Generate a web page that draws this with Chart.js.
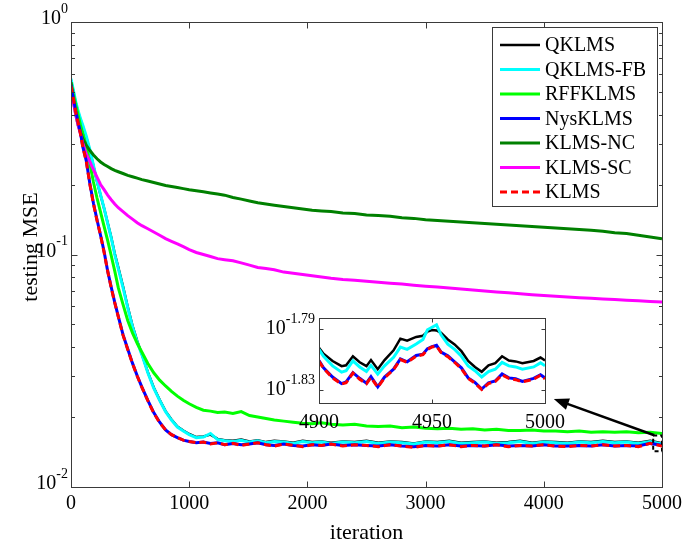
<!DOCTYPE html>
<html>
<head>
<meta charset="utf-8">
<script src="https://cdn.jsdelivr.net/npm/chart.js@4.4.1/dist/chart.umd.min.js"></script>
<style>
  html, body { margin: 0; padding: 0; background: #fff; }
  #wrap { position: relative; width: 684px; height: 545px; overflow: hidden; }
  #main { position: absolute; left: 0; top: 0; }
  #inset { position: absolute; left: 250px; top: 290px; }
</style>
</head>
<body>
<div id="wrap">
  <canvas id="main" width="684" height="545"></canvas>
  <canvas id="inset" width="320" height="145"></canvas>
</div>
<script>
// ---- data ----
const iterations = [0, 20, 40, 60, 80, 100, 130, 160, 190, 220, 250, 280, 310, 340, 370, 400, 440, 480, 520, 560,
  600, 650, 700, 750, 800, 850, 900, 950, 1000,
  1060, 1120, 1180, 1240, 1300, 1370, 1440, 1510, 1580, 1650, 1720, 1800, 1880, 1960, 2040, 2120, 2200,
  2300, 2400, 2500, 2600, 2700, 2800, 2900, 3000, 3100, 3200, 3300, 3400, 3500, 3600, 3700, 3800, 3900, 4000,
  4100, 4200, 4300, 4400, 4500, 4600, 4700, 4800, 4900, 5000];

const qklms = [0.56, 0.505, 0.45, 0.41, 0.38, 0.355, 0.318, 0.279, 0.240, 0.206, 0.180, 0.158, 0.137, 0.119, 0.101, 0.088, 0.073, 0.0595, 0.0495, 0.0425,
  0.0372, 0.0312, 0.0268, 0.0237, 0.0212, 0.0195, 0.0182, 0.0175, 0.0169,
  0.0164, 0.0165, 0.0168, 0.0161, 0.0159, 0.0158, 0.0160, 0.0157, 0.0159, 0.0156, 0.0158, 0.0157, 0.0155, 0.0158, 0.0156, 0.0157, 0.0155,
  0.0157, 0.0156, 0.0158, 0.0155, 0.0157, 0.0156, 0.0154, 0.0157, 0.0156, 0.0158, 0.0155, 0.0156, 0.0157, 0.0155, 0.0156, 0.0158, 0.0155, 0.0157,
  0.0156, 0.0155, 0.0157, 0.0156, 0.0158, 0.0156, 0.0157, 0.0155, 0.0158, 0.0154];

const qklmsFB = [0.57, 0.51, 0.455, 0.415, 0.385, 0.36, 0.322, 0.282, 0.242, 0.207, 0.181, 0.158, 0.136, 0.118, 0.100, 0.087, 0.072, 0.059, 0.049, 0.042,
  0.037, 0.031, 0.0266, 0.0236, 0.0211, 0.0194, 0.0181, 0.0174, 0.0168,
  0.0163, 0.0164, 0.0170, 0.0160, 0.0158, 0.0157, 0.0159, 0.0156, 0.0158, 0.0155, 0.0157, 0.0156, 0.0154, 0.0157, 0.0155, 0.0156, 0.0154,
  0.0156, 0.0155, 0.0157, 0.0154, 0.0156, 0.0155, 0.0153, 0.0156, 0.0155, 0.0157, 0.0154, 0.0155, 0.0156, 0.0154, 0.0155, 0.0157, 0.0154, 0.0156,
  0.0155, 0.0154, 0.0156, 0.0155, 0.0157, 0.0155, 0.0156, 0.0154, 0.0157, 0.0153];

const rffklms = [0.55, 0.49, 0.44, 0.40, 0.36, 0.33, 0.29, 0.245, 0.205, 0.175, 0.152, 0.132, 0.115, 0.099, 0.085, 0.072, 0.061, 0.052, 0.046, 0.0415,
  0.038, 0.034, 0.031, 0.0288, 0.0272, 0.0258, 0.0246, 0.0236, 0.0228,
  0.0220, 0.0214, 0.0212, 0.0209, 0.0210, 0.0207, 0.0211, 0.0203, 0.0200, 0.0197, 0.0194, 0.0192, 0.0190, 0.0188, 0.0187, 0.0189, 0.0186,
  0.0185, 0.0186, 0.0183, 0.0182, 0.0183, 0.0180, 0.0181, 0.0179, 0.0178, 0.0179, 0.0177, 0.0178, 0.0176, 0.0177, 0.0175, 0.0175, 0.0176, 0.0174,
  0.0174, 0.0173, 0.0174, 0.0172, 0.0173, 0.0172, 0.0173, 0.0171, 0.0172, 0.0170];

const nysklms = [0.535, 0.47, 0.415, 0.37, 0.335, 0.29, 0.252, 0.201, 0.166, 0.141, 0.121, 0.103, 0.085, 0.0725, 0.0622, 0.0542, 0.0452, 0.0392, 0.0341, 0.0301,
  0.0269, 0.0236, 0.0209, 0.0190, 0.0176, 0.0168, 0.0163, 0.0159, 0.0157,
  0.0155, 0.0156, 0.0154, 0.0155, 0.0152, 0.0154, 0.0152, 0.0153, 0.0155, 0.0152, 0.0151, 0.0153, 0.0151, 0.0150, 0.0152, 0.0151, 0.0153,
  0.0151, 0.0152, 0.0151, 0.0150, 0.0152, 0.0150, 0.0149, 0.0151, 0.0150, 0.0152, 0.0150, 0.0151, 0.0150, 0.0152, 0.0150, 0.0151, 0.0150, 0.0152,
  0.0150, 0.0150, 0.0151, 0.0150, 0.0152, 0.0150, 0.0151, 0.0150, 0.0154, 0.0151];

const klmsNC = [0.55, 0.46, 0.40, 0.36, 0.335, 0.315, 0.295, 0.280, 0.268, 0.258, 0.250, 0.244, 0.239, 0.234, 0.230, 0.227, 0.223, 0.219, 0.216, 0.213,
  0.210, 0.207, 0.204, 0.201, 0.198, 0.196, 0.194, 0.192, 0.190,
  0.188, 0.186, 0.184, 0.182, 0.180, 0.176, 0.173, 0.170, 0.167, 0.165, 0.163, 0.161, 0.159, 0.157, 0.155, 0.154, 0.153,
  0.151, 0.150, 0.148, 0.147, 0.146, 0.144, 0.143, 0.141, 0.140, 0.139, 0.138, 0.137, 0.136, 0.135, 0.134, 0.133, 0.132, 0.131,
  0.130, 0.129, 0.128, 0.127, 0.126, 0.124, 0.123, 0.121, 0.119, 0.117];

const klmsSC = [0.50, 0.45, 0.40, 0.36, 0.33, 0.30, 0.27, 0.25, 0.232, 0.215, 0.200, 0.190, 0.180, 0.172, 0.165, 0.159, 0.153, 0.147, 0.142, 0.137,
  0.133, 0.129, 0.125, 0.121, 0.117, 0.114, 0.111, 0.108, 0.105,
  0.102, 0.100, 0.098, 0.096, 0.095, 0.094, 0.092, 0.090, 0.088, 0.087, 0.086, 0.084, 0.083, 0.082, 0.081, 0.080, 0.079,
  0.078, 0.0775, 0.0767, 0.076, 0.0753, 0.0746, 0.0738, 0.0731, 0.0724, 0.0717, 0.071, 0.0703, 0.0697, 0.069, 0.0684, 0.0678, 0.0672, 0.0667,
  0.0662, 0.0657, 0.0652, 0.0648, 0.0644, 0.064, 0.0636, 0.0632, 0.0628, 0.0625];

const klms = [0.53, 0.47, 0.41, 0.37, 0.33, 0.29, 0.25, 0.20, 0.165, 0.14, 0.121, 0.102, 0.085, 0.072, 0.062, 0.054, 0.045, 0.039, 0.034, 0.030,
  0.0268, 0.0235, 0.0208, 0.0189, 0.0176, 0.0168, 0.0163, 0.0159, 0.0157,
  0.0155, 0.0156, 0.0153, 0.0155, 0.0152, 0.0154, 0.0151, 0.0153, 0.0155, 0.0152, 0.0150, 0.0153, 0.0151, 0.0149, 0.0152, 0.0151, 0.0153,
  0.0150, 0.0152, 0.0151, 0.0149, 0.0152, 0.0150, 0.0148, 0.0151, 0.0150, 0.0152, 0.0149, 0.0151, 0.0150, 0.0152, 0.0149, 0.0151, 0.0150, 0.0152,
  0.0150, 0.0149, 0.0151, 0.0150, 0.0152, 0.0150, 0.0151, 0.0149, 0.0154, 0.0150];

// zoomed window, last 100 iterations
const zoomIter = [4900, 4902, 4906, 4910, 4912, 4915, 4918, 4921, 4923, 4926, 4929, 4933, 4936, 4939, 4943, 4946, 4948, 4950,
  4952, 4954, 4957, 4960, 4963, 4966, 4969, 4972, 4975, 4978, 4981, 4984, 4987, 4990, 4995, 4998, 5000];
const zoomQKLMS = [0.015760, 0.015620, 0.015450, 0.015330, 0.015350, 0.015560, 0.015420, 0.015330, 0.015470, 0.015260, 0.015470, 0.015700,
  0.015980, 0.015930, 0.016020, 0.016050, 0.016150, 0.016190, 0.016180, 0.016120, 0.015960, 0.015840, 0.015680, 0.015450,
  0.015310, 0.015200, 0.015350, 0.015400, 0.015560, 0.015460, 0.015440, 0.015400, 0.015450, 0.015530, 0.015460];
const zoomQKLMSFB = [0.015722, 0.015560, 0.015336, 0.015192, 0.015223, 0.015453, 0.015311, 0.015206, 0.015346, 0.015146, 0.015336, 0.015535,
  0.015776, 0.015722, 0.015849, 0.015959, 0.016196, 0.016256, 0.016315, 0.016073, 0.015849, 0.015722, 0.015560, 0.015336,
  0.015223, 0.015080, 0.015206, 0.015258, 0.015417, 0.015336, 0.015311, 0.015258, 0.015311, 0.015406, 0.015336];
const zoomNys = [0.015460, 0.015290, 0.015080, 0.014930, 0.014970, 0.015180, 0.015050, 0.014940, 0.015090, 0.014860, 0.015080, 0.015260,
  0.015500, 0.015430, 0.015580, 0.015610, 0.015740, 0.015790, 0.015820, 0.015660, 0.015570, 0.015430, 0.015290, 0.015060,
  0.014960, 0.014810, 0.014950, 0.014990, 0.015150, 0.015060, 0.015040, 0.014980, 0.015050, 0.015130, 0.015060];
const zoomKLMS = [0.015440, 0.015280, 0.015060, 0.014920, 0.014950, 0.015170, 0.015030, 0.014930, 0.015070, 0.014850, 0.015060, 0.015250,
  0.015480, 0.015420, 0.015560, 0.015600, 0.015720, 0.015780, 0.015800, 0.015650, 0.015550, 0.015420, 0.015270, 0.015050,
  0.014940, 0.014800, 0.014930, 0.014980, 0.015130, 0.015050, 0.015020, 0.014970, 0.015030, 0.015120, 0.015040];

// ticks
const mainXTicks = [0, 1000, 2000, 3000, 4000, 5000];
const mainYDecades = [0, -1, -2];
const zoomXTicks = [4900, 4950, 5000];
const zoomYExps = [-1.79, -1.83];
const zoomXRange = [4900, 5000];
const zoomYExpRange = [-1.8377, -1.7829];

// ---- styling ----
const FONT = "'Liberation Serif', 'Times New Roman', serif";
const AXIS_COLOR = '#3a3a3a';

const styles = {
  QKLMS:      { color: '#000000', width: 2.5, order: 7 },
  'QKLMS-FB': { color: '#00ffff', width: 3,   order: 6 },
  RFFKLMS:    { color: '#00ff00', width: 3,   order: 5 },
  NysKLMS:    { color: '#0000ff', width: 3,   order: 2 },
  'KLMS-NC':  { color: '#008000', width: 3,   order: 4 },
  'KLMS-SC':  { color: '#ff00ff', width: 3,   order: 3 },
  KLMS:       { color: '#ff0000', width: 3,   order: 1, dash: [7, 4] }
};

function makeSet(label, xs, ys) {
  const st = styles[label];
  return {
    label: label,
    data: xs.map((x, i) => ({ x: x, y: ys[i] })),
    borderColor: st.color,
    borderWidth: st.width,
    borderDash: st.dash || [],
    order: st.order,
    pointRadius: 0,
    fill: false,
    tension: 0
  };
}

// draws "10" with a raised exponent, right aligned at xr
function drawPow(ctx, exp, xr, y, baseSize, expSize) {
  ctx.textBaseline = 'middle';
  ctx.font = expSize + 'px ' + FONT;
  const ew = ctx.measureText(exp).width;
  ctx.font = baseSize + 'px ' + FONT;
  const bw = ctx.measureText('10').width;
  ctx.textAlign = 'left';
  ctx.fillStyle = '#000';
  ctx.fillText('10', xr - ew - bw, y);
  ctx.font = expSize + 'px ' + FONT;
  ctx.fillText(exp, xr - ew, y - baseSize * 0.5);
}

function crisp(v) { return Math.round(v) + 0.5; }

// MATLAB-like box, inward ticks, superscript labels for the main axes
const mainFrame = {
  id: 'mainFrame',
  afterDatasetsDraw(chart) {
    const { ctx, scales: { x, y } } = chart;
    ctx.save();
    // dashed box marking the zoomed window
    const x0 = x.getPixelForValue(zoomXRange[0]), x1 = x.getPixelForValue(zoomXRange[1]);
    const y0 = y.getPixelForValue(Math.pow(10, zoomYExpRange[1])), y1 = y.getPixelForValue(Math.pow(10, zoomYExpRange[0]));
    ctx.strokeStyle = '#000';
    ctx.lineWidth = 2;
    ctx.setLineDash([4, 3]);
    ctx.strokeRect(x0 + 3, y0 - 1, x1 - x0 - 3, y1 - y0 + 3);
    ctx.setLineDash([]);
    // arrow towards the inset
    const tx = x.getPixelForValue(4935), ty = y.getPixelForValue(0.0167);
    const hx = x.getPixelForValue(4085), hy = y.getPixelForValue(0.0239);
    const ang = Math.atan2(hy - ty, hx - tx);
    ctx.lineWidth = 2.5;
    ctx.beginPath();
    ctx.moveTo(tx, ty);
    ctx.lineTo(hx - 10 * Math.cos(ang), hy - 10 * Math.sin(ang));
    ctx.stroke();
    ctx.fillStyle = '#000';
    ctx.beginPath();
    ctx.moveTo(hx, hy);
    ctx.lineTo(hx - 15 * Math.cos(ang) + 6 * Math.sin(ang), hy - 15 * Math.sin(ang) - 6 * Math.cos(ang));
    ctx.lineTo(hx - 15 * Math.cos(ang) - 6 * Math.sin(ang), hy - 15 * Math.sin(ang) + 6 * Math.cos(ang));
    ctx.closePath();
    ctx.fill();
    ctx.restore();
  },
  afterDraw(chart) {
    const { ctx, chartArea: a, scales: { x, y } } = chart;
    ctx.save();
    ctx.strokeStyle = AXIS_COLOR;
    ctx.lineWidth = 1;
    const L = crisp(a.left), R = crisp(a.right), T = crisp(a.top), B = crisp(a.bottom);
    ctx.strokeRect(L, T, R - L, B - T);
    ctx.beginPath();
    mainXTicks.forEach(v => {
      const px = crisp(x.getPixelForValue(v));
      ctx.moveTo(px, B); ctx.lineTo(px, B - 6);
      ctx.moveTo(px, T); ctx.lineTo(px, T + 6);
    });
    for (let k = -2; k <= 0; k++) {
      for (let m = 1; m <= 9; m++) {
        if (k === 0 && m > 1) break;
        const py = crisp(y.getPixelForValue(m * Math.pow(10, k)));
        const len = m === 1 ? 6 : 3.5;
        ctx.moveTo(L, py); ctx.lineTo(L + len, py);
        ctx.moveTo(R, py); ctx.lineTo(R - len, py);
      }
    }
    ctx.stroke();
    mainYDecades.forEach(k => {
      drawPow(ctx, String(k), a.left - 3, y.getPixelForValue(Math.pow(10, k)) - 3, 20, 14);
    });
    // y axis title, a little above the middle as in the original
    ctx.save();
    ctx.translate(37, 247);
    ctx.rotate(-Math.PI / 2);
    ctx.font = '22px ' + FONT;
    ctx.fillStyle = '#000';
    ctx.textAlign = 'center';
    ctx.textBaseline = 'alphabetic';
    ctx.fillText('testing MSE', 0, 0);
    ctx.restore();
    // legend
    const ds = chart.data.datasets;
    const lx = 492, ly = 27, lw = 165, rowH = 24.5, first = 45;
    const lh = first - ly + (ds.length - 1) * rowH + 14;
    ctx.fillStyle = '#fff';
    ctx.fillRect(lx, ly, lw, lh);
    ctx.strokeStyle = AXIS_COLOR;
    ctx.lineWidth = 1;
    ctx.strokeRect(crisp(lx), crisp(ly), lw, Math.round(lh));
    ctx.font = '20px ' + FONT;
    ctx.textAlign = 'left';
    ctx.textBaseline = 'middle';
    ds.forEach((d, i) => {
      const yy = first + i * rowH;
      ctx.strokeStyle = d.borderColor;
      ctx.lineWidth = d.borderWidth;
      ctx.setLineDash(d.borderDash);
      ctx.beginPath();
      ctx.moveTo(500, yy); ctx.lineTo(540, yy);
      ctx.stroke();
      ctx.setLineDash([]);
      ctx.fillStyle = '#000';
      ctx.fillText(d.label, 545, yy + 1);
    });
    ctx.restore();
  }
};

const insetFrame = {
  id: 'insetFrame',
  beforeDatasetsDraw(chart) {
    const { ctx, chartArea: a } = chart;
    ctx.save();
    ctx.fillStyle = '#fff';
    ctx.fillRect(a.left, a.top, a.right - a.left, a.bottom - a.top);
    ctx.restore();
  },
  afterDraw(chart) {
    const { ctx, chartArea: a, scales: { x, y } } = chart;
    ctx.save();
    ctx.strokeStyle = AXIS_COLOR;
    ctx.lineWidth = 1;
    const L = crisp(a.left), R = crisp(a.right), T = crisp(a.top), B = crisp(a.bottom);
    ctx.strokeRect(L, T, R - L, B - T);
    ctx.beginPath();
    zoomXTicks.forEach(v => {
      const px = crisp(x.getPixelForValue(v));
      ctx.moveTo(px, B); ctx.lineTo(px, B - 4);
      ctx.moveTo(px, T); ctx.lineTo(px, T + 4);
    });
    zoomYExps.forEach(e => {
      const py = crisp(y.getPixelForValue(Math.pow(10, e)));
      ctx.moveTo(L, py); ctx.lineTo(L + 4, py);
      ctx.moveTo(R, py); ctx.lineTo(R - 4, py);
    });
    ctx.stroke();
    zoomYExps.forEach(e => {
      drawPow(ctx, e.toFixed(2), a.left - 4, y.getPixelForValue(Math.pow(10, e)), 20, 14);
    });
    ctx.restore();
  }
};

const common = {
  responsive: false,
  devicePixelRatio: 1,
  animation: false,
  events: [],
  plugins: { legend: { display: false }, tooltip: { enabled: false } },
  elements: { point: { radius: 0 }, line: { tension: 0 } }
};

new Chart(document.getElementById('main'), {
  type: 'line',
  data: {
    datasets: [
      makeSet('QKLMS', iterations, qklms),
      makeSet('QKLMS-FB', iterations, qklmsFB),
      makeSet('RFFKLMS', iterations, rffklms),
      makeSet('NysKLMS', iterations, nysklms),
      makeSet('KLMS-NC', iterations, klmsNC),
      makeSet('KLMS-SC', iterations, klmsSC),
      makeSet('KLMS', iterations, klms)
    ]
  },
  options: Object.assign({}, common, {
    layout: { padding: { top: 22, right: 22, left: 0, bottom: 0 } },
    scales: {
      x: {
        type: 'linear', min: 0, max: 5000,
        afterBuildTicks: s => { s.ticks = mainXTicks.map(v => ({ value: v })); },
        ticks: { font: { family: FONT, size: 20 }, color: '#000', padding: -3, maxRotation: 0, autoSkip: false,
                 callback: v => String(v) },
        grid: { display: false },
        border: { display: false },
        title: { display: true, text: 'iteration', font: { family: FONT, size: 22 }, color: '#000', padding: { top: 0, bottom: -1 } },
        afterFit: s => { s.height = 58; }
      },
      y: {
        type: 'logarithmic', min: 0.01, max: 1,
        ticks: { display: false },
        grid: { display: false },
        border: { display: false },
        afterFit: s => { s.width = 71; }
      }
    }
  }),
  plugins: [mainFrame]
});

new Chart(document.getElementById('inset'), {
  type: 'line',
  data: {
    datasets: [
      makeSet('QKLMS', zoomIter, zoomQKLMS),
      makeSet('QKLMS-FB', zoomIter, zoomQKLMSFB),
      makeSet('NysKLMS', zoomIter, zoomNys),
      makeSet('KLMS', zoomIter, zoomKLMS)
    ]
  },
  options: Object.assign({}, common, {
    layout: { padding: { top: 28, right: 25, left: 0, bottom: 0 } },
    scales: {
      x: {
        type: 'linear', min: zoomXRange[0], max: zoomXRange[1],
        afterBuildTicks: s => { s.ticks = zoomXTicks.map(v => ({ value: v })); },
        ticks: { font: { family: FONT, size: 20 }, color: '#000', padding: 0, maxRotation: 0, autoSkip: false,
                 callback: v => String(v) },
        grid: { display: false },
        border: { display: false },
        afterFit: s => { s.height = 32; }
      },
      y: {
        type: 'logarithmic', min: Math.pow(10, zoomYExpRange[0]), max: Math.pow(10, zoomYExpRange[1]),
        ticks: { display: false },
        grid: { display: false },
        border: { display: false },
        afterFit: s => { s.width = 69; }
      }
    }
  }),
  plugins: [insetFrame]
});
</script>
</body>
</html>
